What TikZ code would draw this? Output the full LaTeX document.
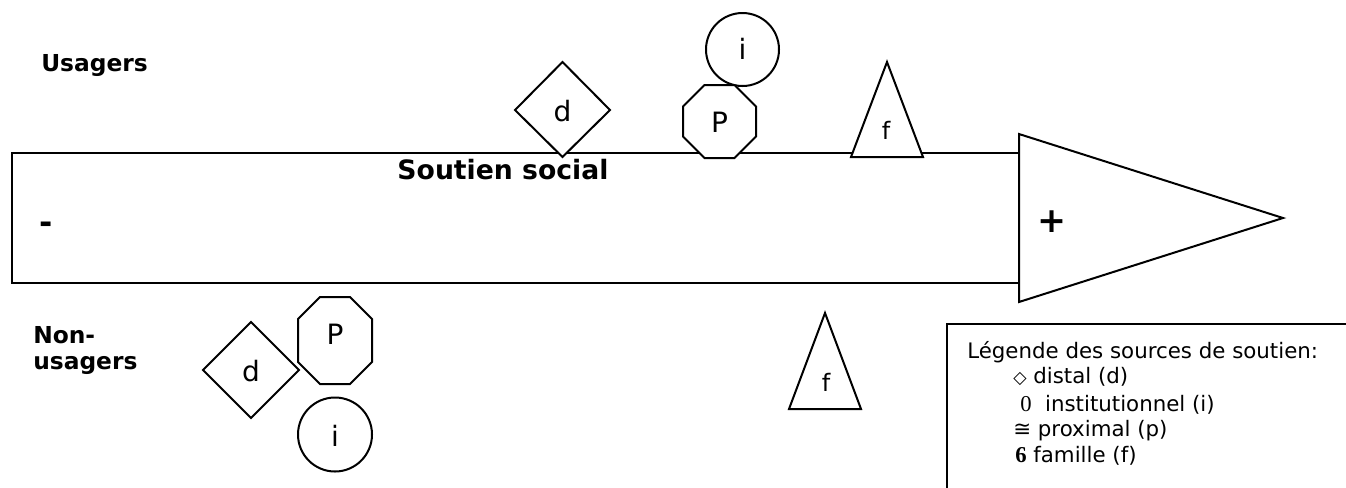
\documentclass[tikz,border=0pt]{standalone}
\usepackage{fontspec}
\setmainfont{DejaVu Sans}
\newfontfamily\symserif{Liberation Serif}

\tikzset{
  shapeline/.style={draw, line width=1.5pt, fill=white, line join=miter},
  shapelbl/.style={inner sep=0pt, font=\fontsize{21}{21}\selectfont},
  smalllbl/.style={inner sep=0pt, font=\fontsize{18}{18}\selectfont},
  grouplbl/.style={inner sep=0pt, anchor=north west, align=left, font=\bfseries\fontsize{17.5}{19.5}\selectfont},
  legtxt/.style={inner sep=0pt, anchor=base west, font=\fontsize{16}{16}\selectfont},
}

\begin{document}
\begin{tikzpicture}[x=0.75pt,y=0.75pt,yscale=-1]
\path[use as bounding box] (0,0) rectangle (1346,487);

%Shape: Rectangle [body of the arrow]
\draw[line width=1.5pt] (1019,153) -- (12,153) -- (12,283) -- (1019,283) ;
%Shape: Triangle [head of the arrow]
\draw[line width=1.5pt, line join=miter] (1019,134) -- (1283,218) -- (1019,302) -- cycle ;

%Shape: Circle [usagers, i]
\draw[shapeline] (742.5,49.5) circle (36.5) ;
%Shape: Diamond [usagers, d]
\draw[shapeline] (515,110) -- (562.5,62) -- (610,110) -- (562.5,157) -- cycle ;
%Shape: Octagon [usagers, P]
\draw[shapeline] (704.5,85) -- (734.5,85) -- (756,106.5) -- (756,136.5) -- (734.5,158) -- (704.5,158) -- (683,136.5) -- (683,106.5) -- cycle ;
%Shape: Triangle [usagers, f]
\draw[shapeline] (851,157) -- (887,62) -- (923,157) -- cycle ;

%Shape: Diamond [non-usagers, d]
\draw[shapeline] (203,370) -- (251,322) -- (299,370) -- (251,418) -- cycle ;
%Shape: Octagon [non-usagers, P]
\draw[shapeline] (320,297) -- (350,297) -- (372,319) -- (372,362) -- (350,384) -- (320,384) -- (298,362) -- (298,319) -- cycle ;
%Shape: Circle [non-usagers, i]
\draw[shapeline] (335,434.5) circle (37) ;
%Shape: Triangle [non-usagers, f]
\draw[shapeline] (789,409) -- (825,313) -- (861,409) -- cycle ;

% Text Node
\node[shapelbl] (iTop) at (742.5,49) {i};
\node[shapelbl] (dTop) at (562.5,111) {d};
\node[shapelbl] (pTop) at (719.5,122) {P};
\node[smalllbl] (fTop) at (886,130) {f};
\node[shapelbl] (dBot) at (251,371) {d};
\node[shapelbl] (pBot) at (335,334) {P};
\node[shapelbl] (iBot) at (335,436) {i};
\node[smalllbl] (fBot) at (826,382) {f};

% Text Node
\node[grouplbl] (usagers) at (41,54) {Usagers};
\node[grouplbl] (nonusagers) at (33,326) {Non-\\usagers};
\node[inner sep=0pt, font=\bfseries\fontsize{20}{20}\selectfont] (soutien) at (503,170) {Soutien social};
\node[inner sep=0pt, font=\bfseries\fontsize{24}{24}\selectfont] (moins) at (46,228) {-};
\node[inner sep=0pt, font=\bfseries\fontsize{26}{26}\selectfont] (plus) at (1052,222) {+};

%Shape: Legend box
\draw[line width=1.5pt] (1350,324) -- (947,324) -- (947,490) ;

% Text Node
\node[legtxt] (legTitle) at (967,358) {Légende des sources de soutien:};
\node[legtxt] (legD) at (1013,383) {{\fontsize{13}{13}\selectfont ◇} distal (d)};
\node[legtxt] (legI) at (1020,411) {{\symserif\fontsize{17}{17}\selectfont 0}\ \ institutionnel (i)};
\node[legtxt] (legP) at (1013,436) {≅ proximal (p)};
\node[legtxt] (legF) at (1015,462) {{\symserif\bfseries\fontsize{17}{17}\selectfont 6} famille (f)};

\end{tikzpicture}
\end{document}
